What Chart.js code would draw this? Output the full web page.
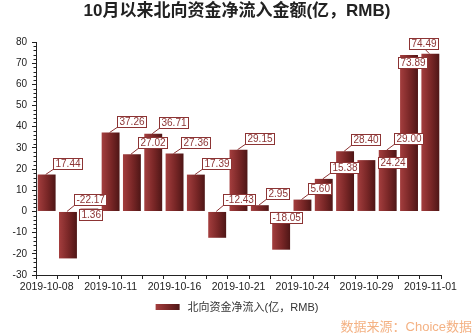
<!DOCTYPE html>
<html lang="zh">
<head>
    <meta charset="UTF-8">
    <title>北向资金净流入</title>
    <style>
        body { margin: 0; background: #fff; }
        #chart { display: block; }
    </style>
</head>
<body>
    <canvas id="chart" width="475" height="335"></canvas>

    <script src="https://cdn.jsdelivr.net/npm/chart.js@4.4.0/dist/chart.umd.min.js"></script>
    <script>
        // Daily northbound net inflow since October (100m RMB)
        const tradeDates = [
            '2019-10-08', '2019-10-09', '2019-10-10', '2019-10-11', '2019-10-14',
            '2019-10-15', '2019-10-16', '2019-10-17', '2019-10-18', '2019-10-21',
            '2019-10-22', '2019-10-23', '2019-10-24', '2019-10-25', '2019-10-28',
            '2019-10-29', '2019-10-30', '2019-10-31', '2019-11-01'
        ];
        const netInflow = [
            17.44, -22.17, 1.36, 37.26, 27.02, 36.71, 27.36, 17.39, -12.43, 29.15,
            2.95, -18.05, 5.60, 15.38, 28.40, 24.24, 29.00, 73.89, 74.49
        ];
        const yTicks = [-30, -20, -10, 0, 10, 20, 30, 40, 50, 60, 70, 80];

        const titleText = '10月以来北向资金净流入金额(亿，RMB)';
        const seriesName = '北向资金净流入(亿，RMB)';
        const sourceText = '数据来源：Choice数据';

        const cjk = '"Liberation Sans", Arial, "Noto Sans CJK SC", sans-serif';
        const labelRed = 'rgb(140, 52, 52)';

        // value labels are moved off their default spot where they would collide
        const labelShift = {
            2: { dx: -10, dy: 11 },
            11: { dx: -11, dy: 12 },
            15: { dx: 12, dy: 8 },
            17: { dx: -11, dy: 13 },
            18: { dx: -21, dy: -5, lx: -6 }
        };

        function barGradient(ctx, x0, x1) {
            const g = ctx.createLinearGradient(x0, 0, x1, 0);
            g.addColorStop(0, 'rgb(164, 62, 62)');
            g.addColorStop(0.55, 'rgb(120, 38, 38)');
            g.addColorStop(1, 'rgb(78, 22, 22)');
            return g;
        }

        // horizontal shading for each bar, worked out from the category scale
        function barFill(context) {
            const chart = context.chart;
            const xs = chart.scales.x;
            if (!xs || context.dataIndex === undefined) return 'rgb(120, 38, 38)';
            const cx = xs.getPixelForValue(context.dataIndex);
            const w = xs.width / tradeDates.length * 0.84;
            if (!isFinite(cx) || !isFinite(w) || w <= 0) return 'rgb(120, 38, 38)';
            return barGradient(chart.ctx, cx - w / 2, cx + w / 2);
        }

        const extras = {
            id: 'extras',
            afterDatasetsDraw(chart) {
                const ctx = chart.ctx;
                const meta = chart.getDatasetMeta(0);
                const zeroY = chart.scales.y.getPixelForValue(0);
                ctx.save();
                ctx.font = '10px ' + cjk;
                ctx.textBaseline = 'middle';
                meta.data.forEach((bar, i) => {
                    const v = netInflow[i];
                    const cx = bar.x;
                    const anchor = v >= 0 ? bar.y : zeroY;
                    const s = labelShift[i] || { dx: 6, dy: -6 };
                    const text = v.toFixed(2);
                    const w = Math.round(ctx.measureText(text).width) + 4;
                    const h = 11;
                    const left = Math.round(cx + s.dx) + 0.5;
                    const bottom = Math.round(anchor + s.dy) + 0.5;

                    ctx.strokeStyle = labelRed;
                    ctx.lineWidth = 1;
                    if (s.dy < 0) {
                        const lx = s.lx !== undefined ? cx + s.lx : left + 1;
                        ctx.beginPath();
                        ctx.moveTo(cx - 1, anchor);
                        ctx.lineTo(lx, bottom - 1);
                        ctx.stroke();
                    }
                    ctx.fillStyle = '#fff';
                    ctx.fillRect(left, bottom - h, w, h);
                    ctx.strokeRect(left, bottom - h, w, h);
                    ctx.fillStyle = labelRed;
                    ctx.textAlign = 'left';
                    ctx.fillText(text, left + 2, bottom - h / 2 + 0.5);
                });
                ctx.restore();
            },
            afterDraw(chart) {
                const ctx = chart.ctx;
                const area = chart.chartArea;
                const ys = chart.scales.y;
                ctx.save();

                // minor ticks on the value axis
                ctx.strokeStyle = '#222';
                ctx.lineWidth = 1;
                for (let v = yTicks[0]; v <= yTicks[yTicks.length - 1]; v += 2) {
                    if (v % 10 === 0) continue;
                    const y = Math.round(ys.getPixelForValue(v)) + 0.5;
                    ctx.beginPath();
                    ctx.moveTo(area.left - 2.5, y);
                    ctx.lineTo(area.left, y);
                    ctx.stroke();
                }

                // title
                ctx.fillStyle = '#222';
                ctx.font = 'bold 17px ' + cjk;
                ctx.textAlign = 'center';
                ctx.textBaseline = 'middle';
                ctx.fillText(titleText, 237, 11);

                // legend
                ctx.font = '11px ' + cjk;
                ctx.textAlign = 'left';
                const tw = ctx.measureText(seriesName).width;
                const lx = 237 - (32 + tw) / 2;
                ctx.fillStyle = barGradient(ctx, lx, lx + 24);
                ctx.fillRect(lx, 304, 24, 6);
                ctx.fillStyle = '#333';
                ctx.fillText(seriesName, lx + 32, 307.5);

                // data source
                ctx.font = '13px ' + cjk;
                ctx.textAlign = 'right';
                ctx.fillStyle = 'rgb(244, 178, 132)';
                ctx.fillText(sourceText, 472, 327);
                ctx.restore();
            }
        };

        const chart = new Chart(document.getElementById('chart'), {
            type: 'bar',
            data: {
                labels: tradeDates,
                datasets: [{
                    label: seriesName,
                    data: netInflow,
                    backgroundColor: barFill,
                    borderWidth: 0,
                    barPercentage: 0.84,
                    categoryPercentage: 1
                }]
            },
            options: {
                responsive: false,
                animation: false,
                layout: { padding: { top: 42, right: 34, bottom: 40, left: 0 } },
                plugins: {
                    legend: { display: false },
                    title: { display: false },
                    tooltip: { enabled: false }
                },
                scales: {
                    x: {
                        grid: { display: true, drawOnChartArea: false, tickLength: 4, color: '#222' },
                        border: { color: '#222' },
                        ticks: {
                            autoSkip: false,
                            maxRotation: 0,
                            padding: 2,
                            color: '#222',
                            font: { family: cjk, size: 10.5 },
                            callback: (v, i) => (i % 3 === 0 ? tradeDates[i] : '')
                        },
                        afterFit: (scale) => { scale.height = 20; }
                    },
                    y: {
                        min: yTicks[0],
                        max: yTicks[yTicks.length - 1],
                        grid: { display: true, drawOnChartArea: false, tickLength: 4, color: '#222' },
                        border: { color: '#222' },
                        ticks: {
                            stepSize: 10,
                            padding: 5,
                            color: '#222',
                            font: { family: cjk, size: 10 }
                        },
                        afterFit: (scale) => { scale.width = 36; }
                    }
                }
            },
            plugins: [extras]
        });
    </script>
</body>
</html>
